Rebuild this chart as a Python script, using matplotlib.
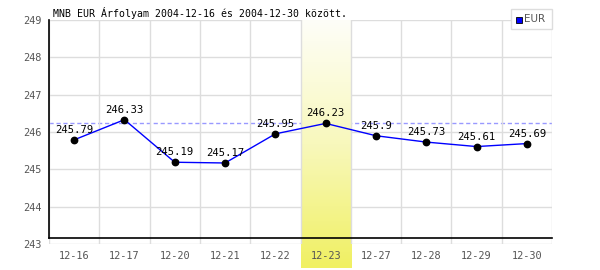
import matplotlib
matplotlib.use("Agg")
import matplotlib.pyplot as plt
import numpy as np
from matplotlib.colors import LinearSegmentedColormap
from matplotlib.patches import Rectangle

dates = ["12-16", "12-17", "12-20", "12-21", "12-22", "12-23", "12-27", "12-28", "12-29", "12-30"]
values = [245.79, 246.33, 245.19, 245.17, 245.95, 246.23, 245.9, 245.73, 245.61, 245.69]
value_labels = ["245.79", "246.33", "245.19", "245.17", "245.95", "246.23", "245.9", "245.73", "245.61", "245.69"]
yticks = [243, 244, 245, 246, 247, 248, 249]
highlight_idx = 5
ref_value = 246.23
title = "MNB EUR Árfolyam 2004-12-16 és 2004-12-30 között."
series_name = "EUR"

W, H = 600, 270
fig = plt.figure(figsize=(W / 100, H / 100), dpi=100)
L, R, T, B = 49, 552, 20, 244
ax = fig.add_axes([L / W, 1 - B / H, (R - L) / W, (B - T) / H])
ax.set_xlim(-0.5, len(dates) - 0.5)
ax.set_ylim(243, 249)

mono = "DejaVu Sans Mono"
px = 6.0 / (B - T)  # data units per pixel in y

# grid (horizontal below band)
for yv in yticks:
    ax.axhline(yv, color="#dddddd", lw=1, zorder=1)

# reference dashed line
ax.axhline(ref_value, color="#9999ff", lw=1, ls=(0, (3, 2)), zorder=1.2)

# highlight band with vertical gradient
cmap = LinearSegmentedColormap.from_list("hl", ["#fefef8", "#f8f8bc", "#f0f062"])
grad = np.linspace(0, 1, 256).reshape(-1, 1)
ax.imshow(grad, aspect="auto", cmap=cmap,
          extent=[highlight_idx - 0.5, highlight_idx + 0.5, 243 - 24 * px, 249],
          origin="upper", clip_on=False, zorder=1.5)

for i in range(len(dates) + 1):
    ax.axvline(i - 0.5, color="#dddddd", lw=1, zorder=2)

for s in ax.spines.values():
    s.set_visible(False)

# black axes lines
axis_y = 243 + 6 * px
ax.plot([-0.5, len(dates) - 0.5], [axis_y, axis_y], color="black", lw=1.2, zorder=3, clip_on=False)
ax.plot([-0.5, -0.5], [axis_y, 249], color="black", lw=1.2, zorder=3, clip_on=False)

x = np.arange(len(dates))
ax.plot(x, values, color="#0000ff", lw=1, zorder=4)
ax.plot(x, values, "o", color="black", ms=4.6, zorder=5)
for xi, v, lab in zip(x, values, value_labels):
    ax.text(xi, v + 10 * px, lab, ha="center", va="center", fontsize=7.6, family=mono, color="black", zorder=6)

ax.set_xticks(x)
ax.set_xticklabels(dates, family=mono, fontsize=7.4, color="#555555")
ax.set_yticks(yticks)
ax.set_yticklabels([str(t) for t in yticks], family=mono, fontsize=7.4, color="#555555")
ax.tick_params(length=0, pad=5)

fig.text(53 / W, 1 - 13 / H, title, family=mono, fontsize=7.1, color="black", va="center", ha="left")

# legend
fig.patches.append(Rectangle((511 / W, 1 - 29 / H), 41 / W, 20 / H, transform=fig.transFigure,
                             facecolor="white", edgecolor="#dddddd", lw=1, zorder=10))
fig.patches.append(Rectangle((516 / W, 1 - 23 / H), 6 / W, 6 / H, transform=fig.transFigure,
                             facecolor="#0000ff", edgecolor="black", lw=0.6, zorder=11))
fig.text(524 / W, 1 - 19.5 / H, series_name, fontsize=7.5, color="#555555", va="center", ha="left", zorder=12)

fig.savefig("out.png", dpi=100)
